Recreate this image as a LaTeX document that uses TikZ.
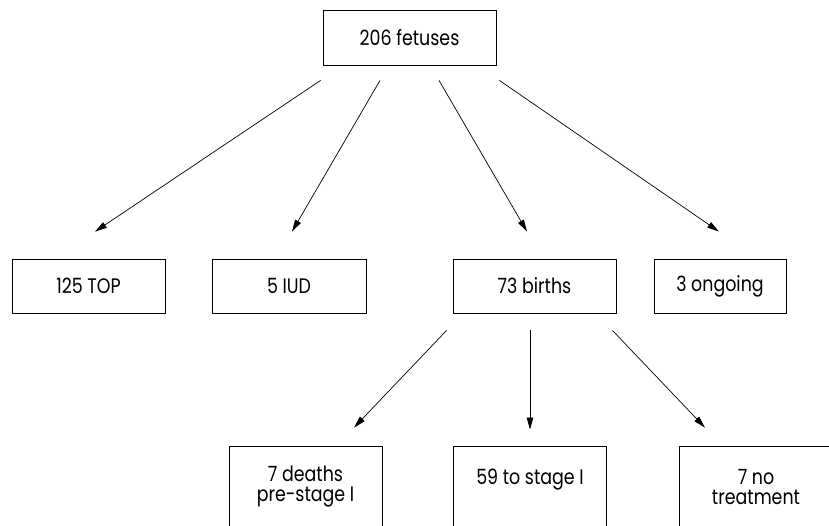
\documentclass[tikz,border=0pt]{standalone}
\usepackage{fontspec}
\setmainfont[FakeStretch=0.83]{Poppins}
\usetikzlibrary{positioning}
\usetikzlibrary{calc}
\usetikzlibrary{arrows.meta}
\tikzset{box/.style={draw,line width=0.8pt,minimum height=54pt,inner sep=0pt,align=center,font=\fontsize{21}{20}\selectfont},
 lowbox/.style={box,minimum height=82pt},
 arr/.style={-{Triangle[length=12pt,width=6.5pt]},line width=0.7pt}}
\begin{document}
\begin{tikzpicture}[x=1pt,y=-1pt]
 \useasboundingbox (0,0) rectangle (829,525);
 \node[box,minimum width=173pt,minimum height=55pt] (fetuses) at (409.5,37.5) {206 fetuses};
 \node[box,minimum width=153pt] (top) at (88.5,286) {125 TOP};
 \node[box,minimum width=154pt] (iud) at (289,286) {5 IUD};
 \node[box,minimum width=163pt] (births) at (534.5,286) {73 births};
 \node[box,minimum width=132pt] (ongoing) at (720,286) {3 ongoing};
 \node[lowbox,minimum width=153pt] (deaths) at (305.5,487) {7 deaths\\pre-stage I};
 \node[lowbox,minimum width=153pt] (stage) at (530,487) {59 to stage I\\~};
 \node[lowbox,minimum width=154pt] (notreat) at (756,487) {7 no\\treatment};
 \draw[arr] ($(fetuses.south west)+(-2,15)$) -- ($(top.north)+(6.5,-27)$);
 \draw[arr] ($(fetuses.south)+(-29.5,15)$) -- ($(iud.north)+(3,-27)$);
 \draw[arr] ($(fetuses.south)+(29.5,15)$) -- ($(births.north)+(-7.5,-27)$);
 \draw[arr] ($(fetuses.south east)+(3,15)$) -- ($(ongoing.north)+(-1,-27)$);
 \draw[arr] ($(births.south west)+(-6,17)$) -- ($(deaths.north)+(48.5,-18)$);
 \draw[arr] ($(births.south)+(-4.5,17)$) -- ($(stage.north)+(0,-16)$);
 \draw[arr] ($(births.south east)+(-4,17)$) -- ($(notreat.north)+(-51,-18)$);
\end{tikzpicture}
\end{document}
